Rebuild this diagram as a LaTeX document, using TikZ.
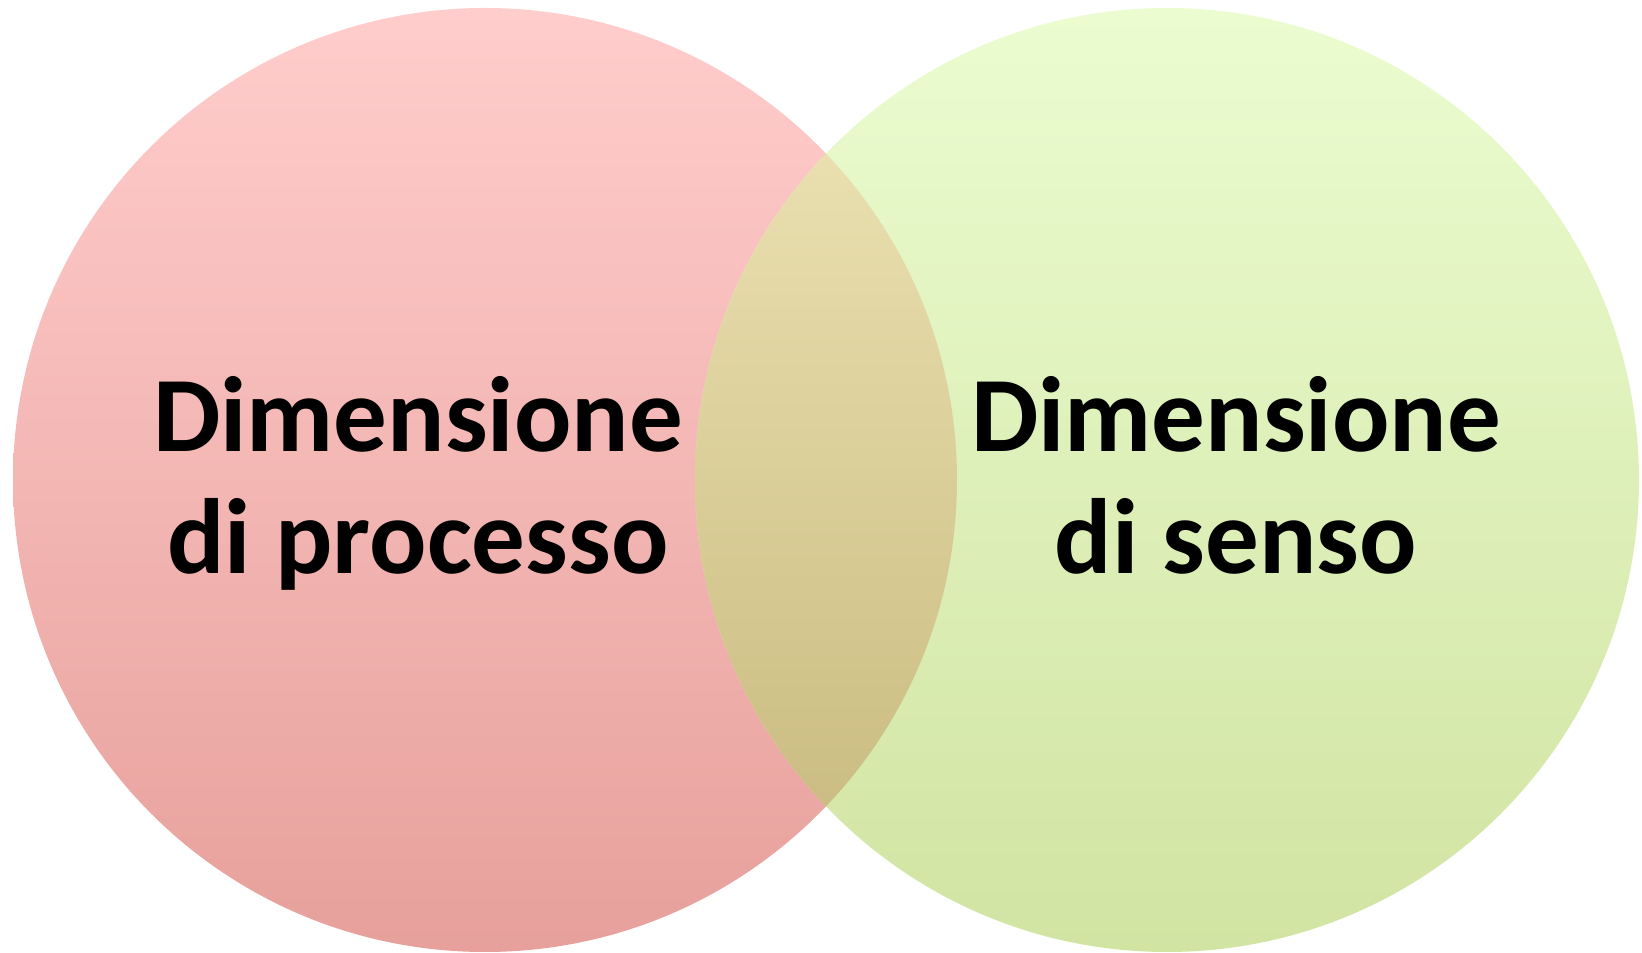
\documentclass[tikz,border=0pt]{standalone}
\usepackage{fontspec}
\setmainfont{Carlito}
\usepackage{xcolor}
\definecolor{procTop}{RGB}{255,205,204}
\definecolor{procBot}{RGB}{231,160,155}
\definecolor{sensTop}{RGB}{235,252,208}
\definecolor{sensBot}{RGB}{209,228,162}
\definecolor{bothTop}{RGB}{240,231,185}
\definecolor{bothBot}{RGB}{196,181,120}
\begin{document}
\begin{tikzpicture}[x=1pt,y=1pt,
    procfill/.style={top color=procTop,bottom color=procBot,draw=none},
    sensfill/.style={top color=sensTop,bottom color=sensBot,draw=none},
    bothfill/.style={top color=bothTop,bottom color=bothBot,draw=none},
    vennlabel/.style={anchor=base,inner sep=0pt,font=\fontsize{107}{122}\selectfont\bfseries}]
                \useasboundingbox (0,0) rectangle (1642,953);
                \coordinate (procC) at (485,473);
                \coordinate (sensC) at (1167,473);
                \shade [procfill] (procC) circle (472);
                \shade [sensfill] (sensC) circle (472);
                % overlap
                \begin{scope}
                    \clip (procC) circle (472);
                    \shade [bothfill] (sensC) circle (472);
                \end{scope}
                \node[vennlabel] (proc1) at (418,501) {Dimensione};
                \node[vennlabel] (proc2) at (418,379) {di processo};
                \node[vennlabel] (sens1) at (1236,501) {Dimensione};
                \node[vennlabel] (sens2) at (1236,379) {di senso};
            \end{tikzpicture}
\end{document}
